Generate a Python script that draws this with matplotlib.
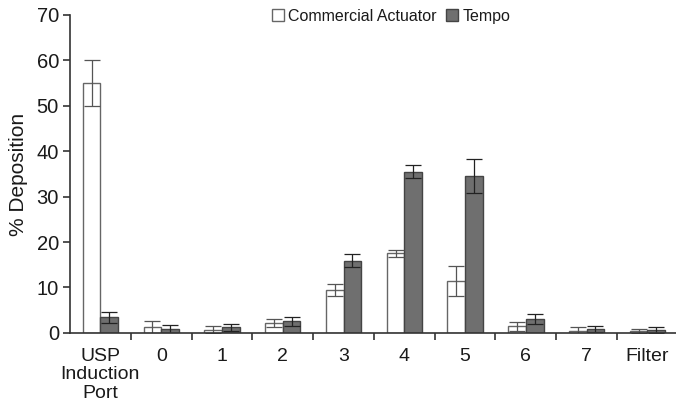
import matplotlib.pyplot as plt
import numpy as np

# =============================================================================
# % Deposition per stage: Commercial Actuator vs Tempo
# =============================================================================
CATEGORIES = ['USP\nInduction\nPort', '0', '1', '2', '3', '4', '5', '6', '7', 'Filter']

COMMERCIAL = [55.0, 1.2, 0.7, 2.1, 9.5, 17.5, 11.4, 1.5, 0.5, 0.4]
COMMERCIAL_ERR = [5.0, 1.5, 0.8, 0.9, 1.3, 0.8, 3.3, 1.0, 0.7, 0.5]

TEMPO = [3.4, 0.8, 1.2, 2.6, 15.9, 35.5, 34.5, 3.1, 0.8, 0.6]
TEMPO_ERR = [1.3, 1.0, 0.8, 1.0, 1.4, 1.4, 3.7, 1.1, 0.7, 0.7]

plt.rcParams['font.family'] = ['Liberation Sans', 'DejaVu Sans']
plt.rcParams['text.color'] = '#1a1a1a'
plt.rcParams['axes.labelcolor'] = '#1a1a1a'
plt.rcParams['xtick.labelcolor'] = '#1a1a1a'
plt.rcParams['ytick.labelcolor'] = '#1a1a1a'

fig = plt.figure(figsize=(6.76, 4.05), dpi=100)
ax = fig.add_axes([0.1036, 0.178, 0.8964, 0.785])

x = np.arange(len(CATEGORIES))
width = 0.29

ax.bar(x - width / 2, COMMERCIAL, width, color='white', edgecolor='#666666',
       linewidth=1.0, label='Commercial Actuator')
ax.errorbar(x - width / 2, COMMERCIAL, yerr=COMMERCIAL_ERR, fmt='none',
            ecolor='#555555', elinewidth=0.9, capsize=5.5, capthick=0.9)
ax.bar(x + width / 2, TEMPO, width, color='#6f6f6f', edgecolor='#444444',
       linewidth=1.0, label='Tempo')
ax.errorbar(x + width / 2, TEMPO, yerr=TEMPO_ERR, fmt='none',
            ecolor='#222222', elinewidth=0.9, capsize=5.5, capthick=0.9)

ax.set_xlim(-0.5, 9.47)
ax.set_ylim(0, 70)
ax.set_yticks(range(0, 71, 10))
ax.set_xticks(x)
ax.set_xticklabels(CATEGORIES, fontsize=14, linespacing=1.1)
ax.set_xticks(np.arange(0.5, 9, 1), minor=True)
ax.tick_params(axis='x', which='major', length=0, pad=11)
ax.tick_params(axis='x', which='minor', length=5, width=1.2, color='#333333',
               direction='out')
ax.tick_params(axis='y', labelsize=14.5, length=5, width=1.2, color='#333333',
               direction='out', pad=3)
ax.set_ylabel('% Deposition', fontsize=15, labelpad=6)

for side in ['top', 'right']:
    ax.spines[side].set_visible(False)
for side in ['left', 'bottom']:
    ax.spines[side].set_linewidth(1.2)
    ax.spines[side].set_color('#333333')

ax.legend(loc='upper left', bbox_to_anchor=(0.323, 1.04), ncol=2, frameon=False,
          fontsize=11.5, handlelength=0.75, handleheight=0.75, handletextpad=0.25,
          columnspacing=0.6, borderaxespad=0)

fig.savefig('out.png', dpi=100)
